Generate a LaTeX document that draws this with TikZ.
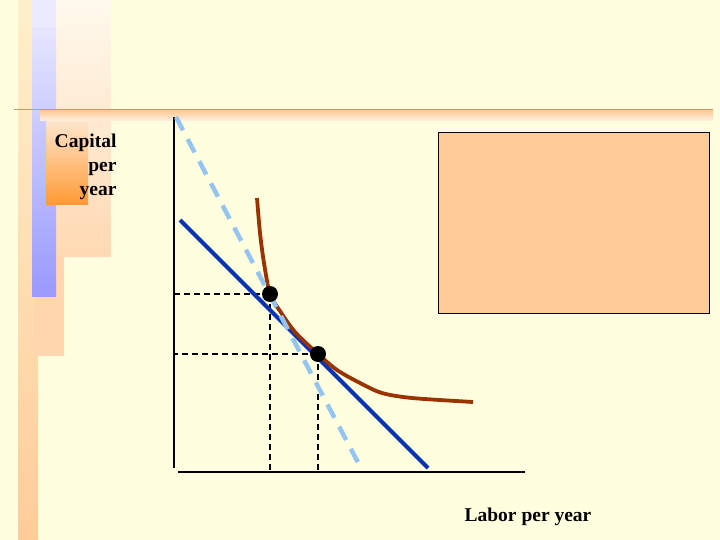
\documentclass[tikz,border=0pt]{standalone}
\usepackage{fontspec}
\setmainfont{Liberation Serif}
\definecolor{bgyellow}{RGB}{255,255,224}
\definecolor{peach}{RGB}{255,204,153}
\definecolor{lavender}{RGB}{153,153,255}
\definecolor{orangebar}{RGB}{255,153,51}
\definecolor{rulebrown}{RGB}{204,153,102}
\definecolor{budgetblue}{RGB}{10,50,180}
\definecolor{paleblue}{RGB}{150,196,240}
\definecolor{isobrown}{RGB}{153,51,0}

\begin{document}
\begin{tikzpicture}[x=1pt, y=-1pt,
  axis/.style={line width=2pt},
  guide/.style={line width=1.4pt, dash pattern=on 6pt off 4pt},
  dot/.style={circle, fill=black, inner sep=0pt, minimum size=16pt},
  lbl/.style={font=\fontsize{19.5}{24}\selectfont\bfseries}]
% page and margins
\fill[bgyellow] (0,0) rectangle (720,540);
\useasboundingbox (0,0) rectangle (720,540);
% slide decoration on the left
\shade[top color=bgyellow!60!peach!30, bottom color=peach!75] (25,0) rectangle (111,256);
\shade[top color=bgyellow!70!peach, bottom color=peach] (18,0) rectangle (38,540);
\fill[peach!80] (34,256) rectangle (64,356);
\fill[lavender!20] (32,0) rectangle (56,29);
\shade[top color=lavender!25, bottom color=lavender] (32,29) rectangle (56,296);
\shade[top color=peach!30, bottom color=orangebar] (46,110) rectangle (88,205);
% title rule
\draw[rulebrown, line width=1pt] (14,110) -- (713,110);
\shade[top color=peach, bottom color=peach!30] (40,111) rectangle (713,121);
% empty text box
\node[draw, fill=peach, line width=1pt, minimum width=271pt, minimum height=181pt,
  anchor=north west, inner sep=0pt] (infobox) at (438,132) {};
% axes
\coordinate (ytop) at (174,117);
\coordinate (ybot) at (174,468);
\coordinate (xleft) at (178,472);
\coordinate (xright) at (525,472);
\draw[axis] (ytop) -- (ybot);
\draw[axis] (xleft) -- (xright);
% tangency points
\coordinate (p1) at (270,294);
\coordinate (p2) at (318,354);
\draw[guide] (p1) -- (p1 -| ybot);
\draw[guide] (p2) -- (p2 -| ybot);
\draw[guide] (p1) -- (p1 |- xleft);
\draw[guide] (p2) -- (p2 |- xleft);
% isocost lines and isoquant
\coordinate (b1) at (180,220);
\coordinate (b2) at (428,468);
\coordinate (d1) at (176,117);
\coordinate (d2) at (362,470);
\draw[budgetblue, line width=4pt] (b1) -- (b2);
\draw[isobrown, line width=3.8pt] plot[smooth] coordinates {(257,198) (260,233) (264,263)
  (270,294) (280,311) (295,332) (318,354) (337,370) (360,383) (382,393) (412,398) (473,402)};
\draw[paleblue, line width=4.5pt, dash pattern=on 15pt off 10pt] (d1) -- (d2);
\node[dot] (dot1) at (p1) {};
\node[dot] (dot2) at (p2) {};
% labels
\node[lbl, align=right, anchor=base east] (ylabel) at (120,196) {Capital\\per\\year};
\node[lbl, anchor=base] (xlabel) at (528,521) {Labor per year};
\end{tikzpicture}
\end{document}
